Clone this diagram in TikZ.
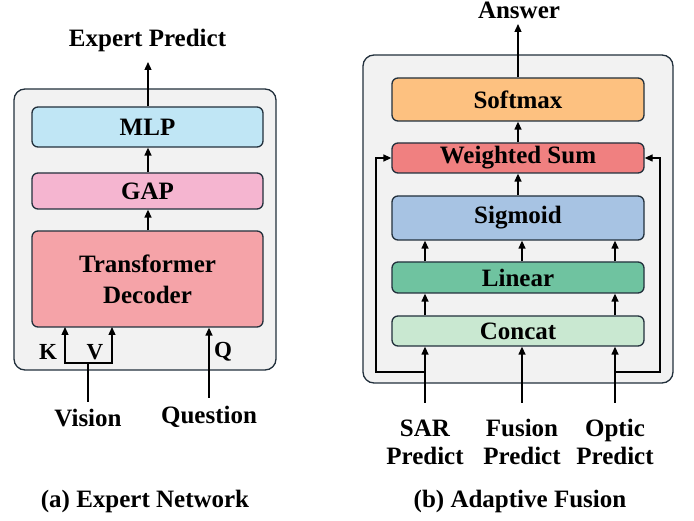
\documentclass[tikz,border=0pt]{standalone}
\usepackage{fontspec}
\setmainfont{Liberation Serif}[BoldFont={Liberation Serif Bold}]
\usetikzlibrary{arrows.meta,calc}
\definecolor{outerfill}{HTML}{F2F2F2}
\definecolor{edge}{HTML}{22303C}
\definecolor{cmlp}{HTML}{C0E6F5}
\definecolor{cgap}{HTML}{F5B5D0}
\definecolor{ctd}{HTML}{F5A3A8}
\definecolor{csoft}{HTML}{FDC180}
\definecolor{cws}{HTML}{F08080}
\definecolor{csig}{HTML}{A7C3E3}
\definecolor{clin}{HTML}{6FC3A0}
\definecolor{ccat}{HTML}{C9E8D1}
\tikzset{
  outerbox/.style={draw=edge, line width=1.3pt, fill=outerfill, rounded corners=11pt},
  blk/.style={draw=edge, line width=1.3pt, rounded corners=6pt, font=\fontsize{25}{30}\selectfont\bfseries, inner sep=0pt},
  lbl/.style={font=\fontsize{25}{28}\selectfont\bfseries, align=center, inner sep=1pt},
  small/.style={font=\fontsize{23}{26}\selectfont\bfseries, inner sep=0pt},
  arr/.style={line width=1.3pt, -{Triangle[length=8pt,width=7pt]}},
  ln/.style={line width=1.3pt},
}
\begin{document}
\begin{tikzpicture}[x=1pt,y=-1pt]
\useasboundingbox (0,0) rectangle (694,521);
% ---------- left panel ----------
\draw[outerbox] (14,89) rectangle (276,370);
\node[blk, fill=cmlp, minimum width=231pt, minimum height=40pt] (mlp) at (147.5,127) {MLP};
\node[blk, fill=cgap, minimum width=231pt, minimum height=36pt] (gap) at (147.5,191) {GAP};
\node[blk, fill=ctd, minimum width=231pt, minimum height=96pt, align=center, font=\fontsize{25}{31}\selectfont\bfseries] (td) at (147.5,279) {Transformer\\Decoder};
\node[lbl, anchor=base] (ep) at (147.5,47) {Expert Predict};
\node[lbl] (vis) at (88,418) {Vision};
\node[lbl] (que) at (209,417) {Question};
\node[small] (k) at (48,352) {K};
\node[small] (v) at (95,352) {V};
\node[small] (q) at (223,352) {Q};
\coordinate (eptip) at (148,62);
\coordinate (kv) at (88,363);
\coordinate (vbot) at (88,402);
\coordinate (qbot) at (209,398);
\coordinate (kin) at (65,327);
\coordinate (vin) at (112,327);
\coordinate (qx) at (209,0);
\coordinate (cx) at (148,0);
\draw[arr] (mlp.north -| cx) -- (eptip);
\draw[arr] (gap.north -| cx) -- (mlp.south -| cx);
\draw[arr] (td.north -| cx) -- (gap.south -| cx);
\draw[ln] (vbot) -- (kv);
\draw[arr] (kv) -| (kin);
\draw[arr] (kv) -| (vin);
\draw[arr] (qbot) -- (td.south -| qx);
\node[lbl, anchor=base] (capa) at (145,507) {(a) Expert Network};
% ---------- right panel ----------
\draw[outerbox] (363,55) rectangle (673,383);
\node[blk, fill=csoft, minimum width=252pt, minimum height=43pt] (soft) at (518,99.5) {Softmax};
\node[blk, fill=cws, minimum width=252pt, minimum height=30pt] (ws) at (518,158) {Weighted Sum};
\node[blk, fill=csig, minimum width=252pt, minimum height=44pt] (sig) at (518,218) {Sigmoid};
\node[blk, fill=clin, minimum width=252pt, minimum height=31pt] (lin) at (518,277.5) {Linear};
\node[blk, fill=ccat, minimum width=252pt, minimum height=30pt] (cat) at (518,331) {Concat};
\node[lbl, anchor=base] (ans) at (519,19) {Answer};
\node[lbl] (sar) at (425,442) {SAR\\Predict};
\node[lbl] (fus) at (522,442) {Fusion\\Predict};
\node[lbl] (opt) at (615,442) {Optic\\Predict};
\coordinate (anstip) at (518,24);
\coordinate (xl) at (425,0);
\coordinate (xm) at (522,0);
\coordinate (xr) at (615,0);
\coordinate (sbot) at (425,403);
\coordinate (fbot) at (522,403);
\coordinate (obot) at (615,403);
\coordinate (lj) at (425,372);
\coordinate (lc) at (376,372);
\coordinate (rj) at (615,372);
\coordinate (rc) at (660,372);
\draw[arr] (soft.north) -- (anstip);
\draw[arr] (ws.north) -- (soft.south);
\draw[arr] (sig.north) -- (ws.south);
\draw[arr] (lin.north -| xl) -- (sig.south -| xl);
\draw[arr] (lin.north -| xm) -- (sig.south -| xm);
\draw[arr] (lin.north -| xr) -- (sig.south -| xr);
\draw[arr] (cat.north -| xl) -- (lin.south -| xl);
\draw[arr] (cat.north -| xr) -- (lin.south -| xr);
\draw[arr] (sbot) -- (cat.south -| xl);
\draw[arr] (fbot) -- (cat.south -| xm);
\draw[arr] (obot) -- (cat.south -| xr);
\draw[arr] (lj) -- (lc) |- (ws.west);
\draw[arr] (rj) -- (rc) |- (ws.east);
\node[lbl, anchor=base] (capb) at (520,507) {(b) Adaptive Fusion};
\end{tikzpicture}
\end{document}
